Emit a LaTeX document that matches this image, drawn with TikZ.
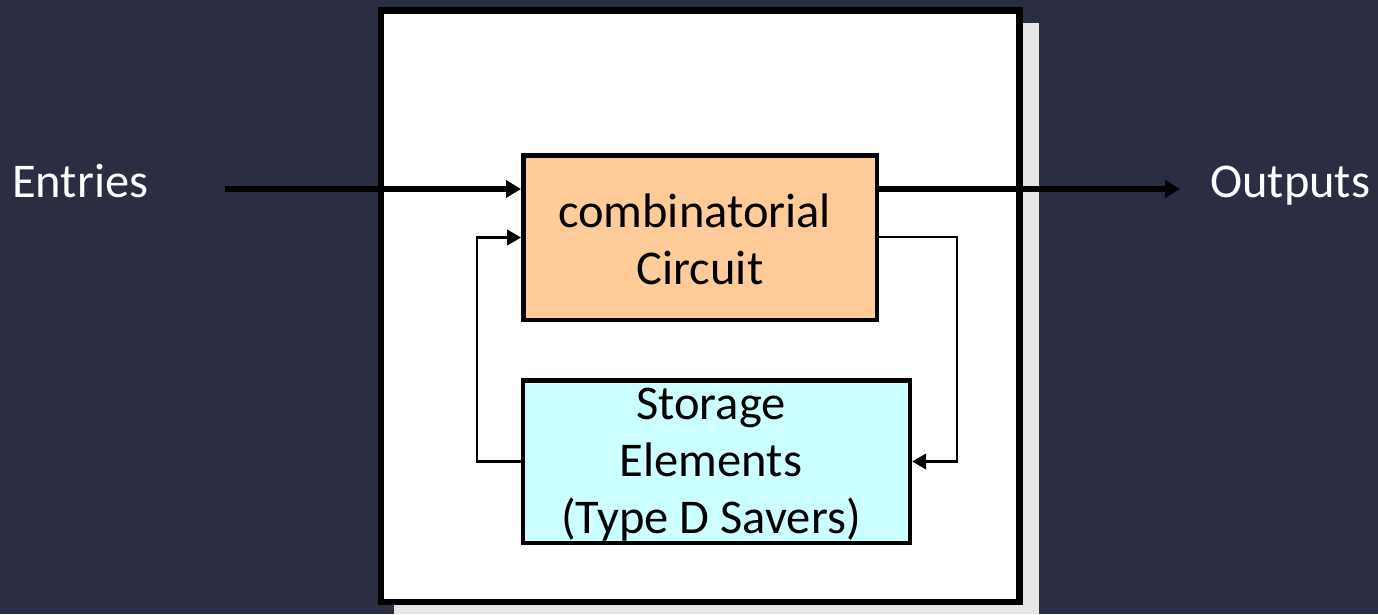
\documentclass[tikz,border=0pt]{standalone}
\usepackage{fontspec}
\setmainfont{Carlito}
\usetikzlibrary{arrows.meta}
\definecolor{bgdark}{HTML}{2B2D42}
\definecolor{shadowgray}{HTML}{E6E6E6}
\definecolor{combfill}{HTML}{FFCC99}
\definecolor{storfill}{HTML}{CCFFFF}
\begin{document}
\begin{tikzpicture}[x=1pt,y=-1pt,
  bigfont/.style={font=\fontsize{48.5}{57}\selectfont},
  outerbox/.style={draw=black,line width=6.5pt,fill=white,minimum width=638.7pt,minimum height=591.5pt,inner sep=0pt},
  blockbox/.style={draw=black,line width=4.5pt,inner sep=0pt},
  labeltext/.style={bigfont,align=center,inner sep=0pt,text=black},
  sidetext/.style={bigfont,text=white,inner sep=0pt,anchor=base west},
  mainflow/.style={line width=6pt,-{Triangle[length=15pt,width=17pt]}},
  feedback/.style={line width=2.7pt,-{Triangle[length=14pt,width=15.5pt]}}]
\fill[bgdark] (0,0) rectangle (1378,614);
\useasboundingbox (0,0) rectangle (1378,614);
\fill[shadowgray] (394,23) rectangle (1039,614);
\node[outerbox] (outer) at (700.3,306) {};
\node[blockbox,fill=combfill,minimum width=353.5pt,minimum height=164.5pt] (comb) at (700,237.5) {};
\node[blockbox,fill=storfill,minimum width=386.75pt,minimum height=162.5pt] (stor) at (716.6,461.5) {};
\node[labeltext] (combtext) at (700,239.5) {combinatorial\hspace*{0.226em}\\Circuit};
\node[labeltext] (stortext) at (711,465) {Storage\\Elements\\(Type D Savers)};
\node[sidetext] (entries) at (12,197) {Entries};
\node[sidetext] (outputs) at (1210,197) {Outputs};
\coordinate (es) at (225,189);
\coordinate (oe) at (1180,189);
\coordinate (rt) at (957,237);
\coordinate (lt) at (477,461.5);
\draw[mainflow] (es) -- (es -| comb.west);
\draw[mainflow] (oe -| comb.east) -- (oe);
\draw[feedback] (comb.east |- rt) -- (rt) |- (stor.east);
\draw[feedback] (stor.west) -- (lt) |- (comb.west);
\end{tikzpicture}
\end{document}
